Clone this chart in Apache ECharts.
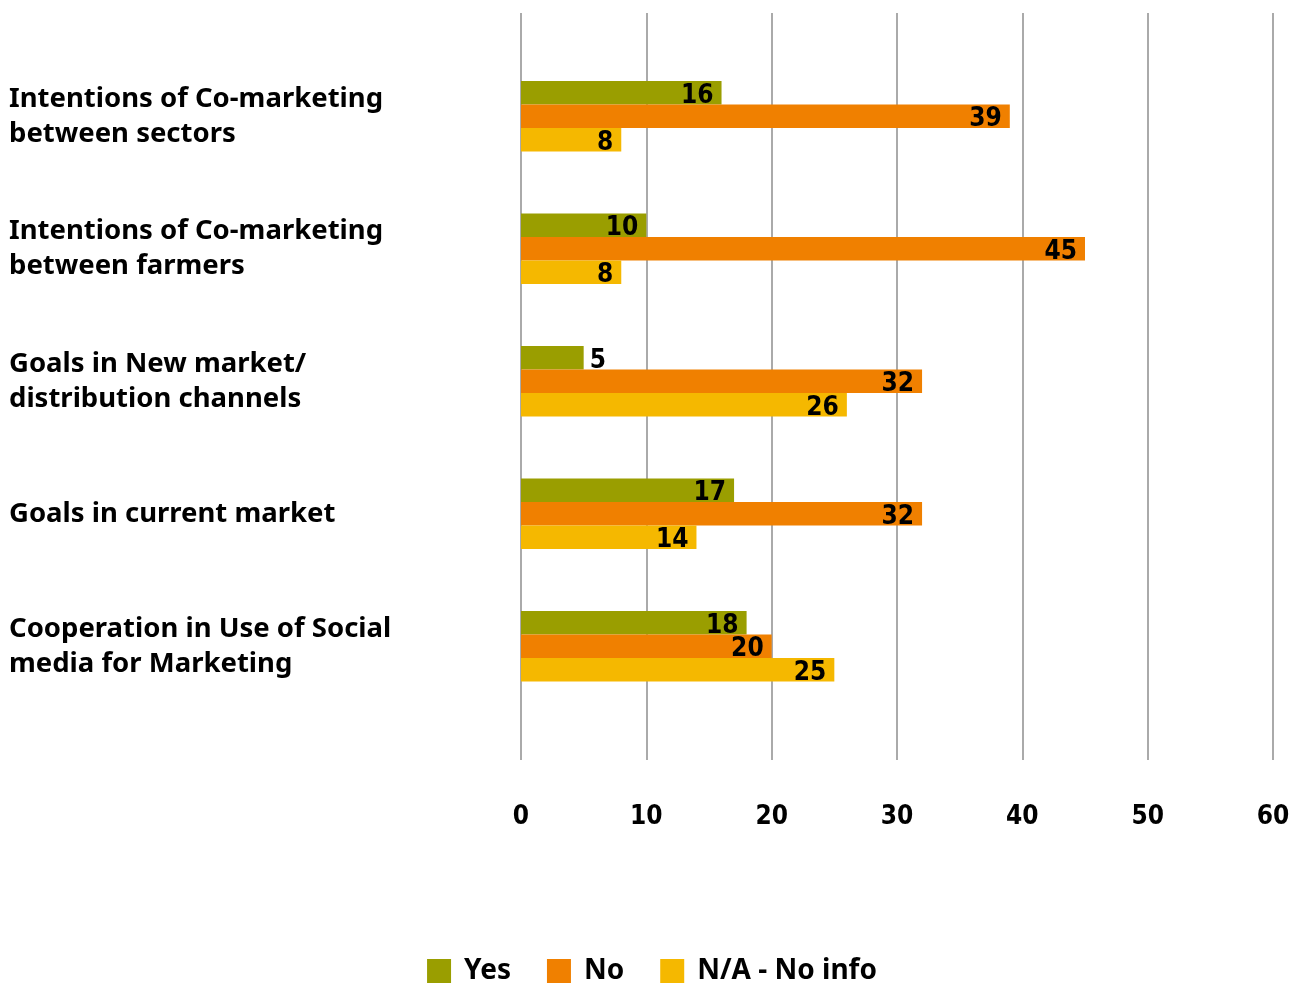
<!DOCTYPE html>
<html>
<head>
<meta charset="utf-8">
<script src="https://cdn.jsdelivr.net/npm/echarts@6/dist/echarts.min.js"></script>
<style>
  html, body { margin: 0; padding: 0; background: #fff; }
  #chart { width: 1304px; height: 983px; }
</style>
</head>
<body>
<div id="chart"></div>
<script>
// Survey answers per topic (counts of respondents)
const categories = [
  'Intentions of Co-marketing\nbetween sectors',
  'Intentions of Co-marketing\nbetween farmers',
  'Goals in New market/\ndistribution channels',
  'Goals in current market',
  'Cooperation in Use of Social\nmedia for Marketing'
];
const yesValues = [16, 10, 5, 17, 18];
const noValues = [39, 45, 32, 32, 20];
const naValues = [8, 8, 26, 14, 25];
const seriesNames = ['Yes', 'No', 'N/A - No info'];
const tickValues = [0, 10, 20, 30, 40, 50, 60];

const colors = ['#9a9e00', '#f08000', '#f5b800'];
const labelFont = '"DejaVu Sans Condensed", "DejaVu Sans", sans-serif';
const textFont = '"Noto Sans", "Open Sans", sans-serif';

function makeData(values) {
  // short bars get their value printed just past the bar end
  return values.map(v => v < 7
    ? { value: v, label: { position: 'right', distance: 6 } }
    : v);
}

const chart = echarts.init(document.getElementById('chart'));
chart.setOption({
  animation: false,
  color: colors,
  grid: [
    { left: 521, right: 31, top: 50, height: 662.5 },
    { left: 521, right: 31, top: 13, bottom: 223 }
  ],
  xAxis: [
    { gridIndex: 0, type: 'value', min: 0, max: tickValues[tickValues.length - 1], interval: 10, show: false },
    {
      gridIndex: 1, type: 'value', min: 0, max: tickValues[tickValues.length - 1], interval: 10,
      axisLine: { show: false }, axisTick: { show: false },
      splitLine: { show: true, lineStyle: { color: '#aaaaaa', width: 2 } },
      axisLabel: {
        margin: 44, color: '#000', fontSize: 26, fontWeight: 'bold', fontFamily: labelFont
      }
    }
  ],
  yAxis: [
    {
      gridIndex: 0, type: 'category', data: categories, inverse: true,
      axisLine: { show: false }, axisTick: { show: false }, splitLine: { show: false },
      axisLabel: {
        margin: 512, align: 'left', color: '#000', fontSize: 27.5, fontWeight: 'bold',
        fontFamily: textFont, lineHeight: 35
      }
    },
    { gridIndex: 1, type: 'category', data: categories, show: false }
  ],
  legend: {
    top: 952, left: 'center', itemWidth: 24, itemHeight: 24, itemGap: 36,
    icon: 'rect',
    textStyle: { fontSize: 28, fontWeight: 'bold', color: '#000', fontFamily: textFont, padding: [0, 0, 0, 8] },
    data: seriesNames
  },
  series: [yesValues, noValues, naValues].map((vals, i) => ({
    name: seriesNames[i],
    type: 'bar',
    xAxisIndex: 0, yAxisIndex: 0,
    barWidth: 23.5,
    barGap: '0%',
    data: makeData(vals),
    label: {
      show: true, position: 'insideRight', distance: 8, offset: [0, 3],
      color: '#000', fontSize: 26, fontWeight: 'bold', fontFamily: labelFont
    }
  }))
});
</script>
</body>
</html>
